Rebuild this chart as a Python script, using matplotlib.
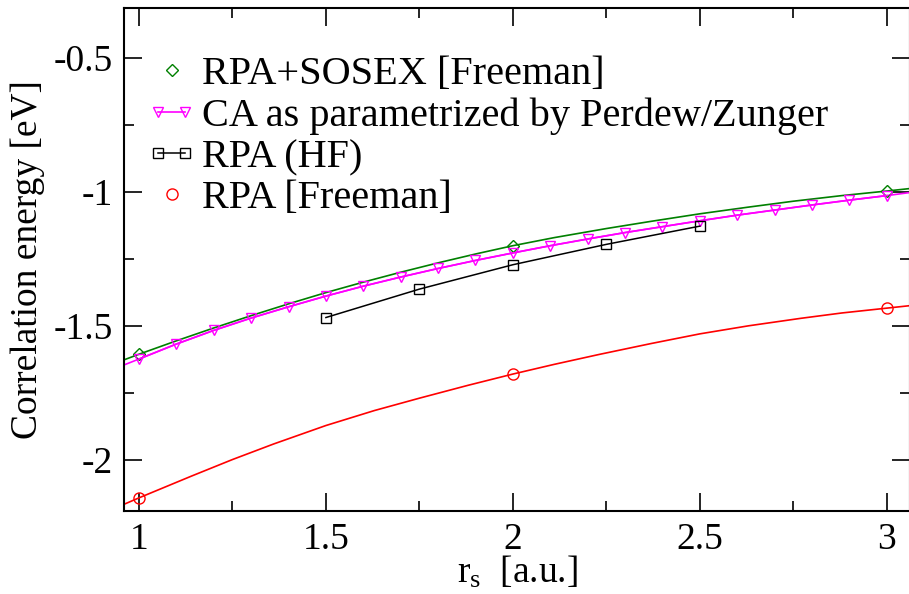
import matplotlib
matplotlib.use('Agg')
import matplotlib.pyplot as plt
from matplotlib.legend_handler import HandlerLine2D

plt.rcParams['font.family'] = ['Liberation Serif', 'DejaVu Serif']
plt.rcParams['mathtext.fontset'] = 'custom'
plt.rcParams['mathtext.rm'] = 'Liberation Serif'
plt.rcParams['mathtext.it'] = 'Liberation Serif'

# RPA+SOSEX [Freeman]: data points and the fitted curve through them
sosex_rs = [1.0, 2.0, 3.0]
sosex_ec = [-1.605, -1.200, -0.996]
sosex_fit_rs = [0.96, 1.0, 1.1, 1.2, 1.3, 1.4, 1.5, 1.6, 1.7, 1.8, 1.9, 2.0,
                2.11, 2.25, 2.37, 2.5, 2.63, 2.75, 2.88, 3.0, 3.06]
sosex_fit_ec = [-1.626, -1.605, -1.555, -1.507, -1.461, -1.417, -1.375, -1.336, -1.299, -1.264, -1.231, -1.200,
                -1.170, -1.136, -1.109, -1.081, -1.056, -1.034, -1.013, -0.996, -0.987]

# correlation energy of the electron gas, Perdew/Zunger parametrization
pz_rs = [1.0, 1.1, 1.2, 1.3, 1.4, 1.5, 1.6, 1.7, 1.8, 1.9, 2.0,
         2.1, 2.2, 2.3, 2.4, 2.5, 2.6, 2.7, 2.8, 2.9, 3.0]
pz_ec = [-1.623, -1.567, -1.516, -1.470, -1.428, -1.388, -1.351, -1.317, -1.285, -1.255, -1.227,
         -1.200, -1.175, -1.151, -1.129, -1.107, -1.086, -1.067, -1.048, -1.030, -1.013]
pz_edge_rs = [0.96, 3.06]
pz_edge_ec = [-1.645, -1.002]

# RPA on top of Hartree-Fock
hf_rs = [1.5, 1.75, 2.0, 2.25, 2.5]
hf_ec = [-1.468, -1.362, -1.271, -1.195, -1.127]

# RPA [Freeman]: data points and fitted curve
rpa_rs = [1.0, 2.0, 3.0]
rpa_ec = [-2.141, -1.679, -1.433]
rpa_fit_rs = [0.96, 1.0, 1.14, 1.25, 1.36, 1.5, 1.63, 1.75, 1.88, 2.0,
              2.11, 2.23, 2.37, 2.5, 2.63, 2.77, 2.88, 3.0, 3.06]
rpa_fit_ec = [-2.165, -2.141, -2.060, -1.998, -1.940, -1.871, -1.815, -1.769, -1.721, -1.679,
              -1.643, -1.606, -1.565, -1.529, -1.499, -1.471, -1.451, -1.433, -1.424]

FS = 27
LW = 1.2

fig = plt.figure(figsize=(9.09, 5.94), dpi=100)
ax = fig.add_axes([124 / 909, 1 - 511 / 594, (910 - 124) / 909, (511 - 8) / 594])

ax.plot(sosex_fit_rs, sosex_fit_ec, color='green', lw=LW)
ax.plot(rpa_fit_rs, rpa_fit_ec, color='red', lw=LW)
ax.plot([pz_edge_rs[0]] + pz_rs + [pz_edge_rs[1]],
        [pz_edge_ec[0]] + pz_ec + [pz_edge_ec[1]], color='magenta', lw=LW)

h_sosex, = ax.plot(sosex_rs, sosex_ec, ls='none', marker='D', ms=6.5, mfc='none',
                   mec='green', mew=1.0, label='RPA+SOSEX [Freeman]')
h_pz, = ax.plot(pz_rs, pz_ec, color='magenta', lw=LW, marker='v', ms=7, mfc='none',
                mec='magenta', mew=1.0, label='CA as parametrized by Perdew/Zunger')
h_hf, = ax.plot(hf_rs, hf_ec, color='black', lw=1.1, marker='s', ms=7, mfc='none',
                mec='black', mew=1.0, label='RPA (HF)')
h_rpa, = ax.plot(rpa_rs, rpa_ec, ls='none', marker='o', ms=8, mfc='none',
                 mec='red', mew=1.0, label='RPA [Freeman]')

ax.set_xlim(0.96, 3.062)
ax.set_ylim(-2.19, -0.313)
ax.set_xticks([1, 1.5, 2, 2.5, 3])
ax.set_xticklabels(['1', '1.5', '2', '2.5', '3'])
ax.set_xticks([1.25, 1.75, 2.25, 2.75], minor=True)
ax.set_yticks([-2, -1.5, -1, -0.5])
ax.set_yticklabels(['-2', '-1.5', '-1', '-0.5'])
ax.set_yticks([-1.75, -1.25, -0.75], minor=True)
ax.tick_params(which='both', direction='in', top=True, right=True, labelsize=FS, width=1.2)
ax.tick_params(which='major', length=13, pad=8)
ax.tick_params(which='minor', length=7)
for s in ax.spines.values():
    s.set_linewidth(1.5)

ax.set_ylabel('Correlation energy [eV]', fontsize=FS, labelpad=6)
ax.set_xlabel(r'$\mathregular{r_s}$  [a.u.]', fontsize=FS, labelpad=-2)

ax.legend(handles=[h_sosex, h_pz, h_hf, h_rpa], loc='upper left',
          bbox_to_anchor=(146 / 909, 1 - 56 / 594), bbox_transform=fig.transFigure,
          frameon=False, fontsize=29, numpoints=2, handlelength=1.27,
          handletextpad=0.12, labelspacing=0.1, borderpad=0, borderaxespad=0,
          handler_map={h_sosex: HandlerLine2D(numpoints=1),
                       h_rpa: HandlerLine2D(numpoints=1)})

fig.savefig('out.png', dpi=100)
